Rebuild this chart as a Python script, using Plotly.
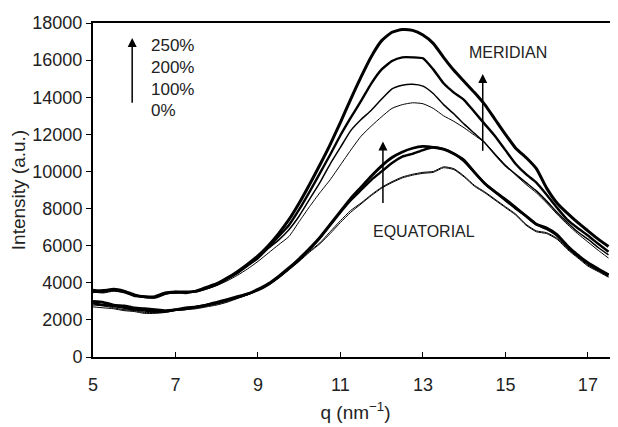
import plotly.graph_objects as go

q = [5.0 + 0.25 * i for i in range(51)]

# Meridian intensities
mer_250 = [3600, 3550, 3650, 3550, 3350, 3250, 3250, 3450, 3500, 3500, 3550, 3750, 3950, 4250, 4600, 5000,
           5450, 6000, 6650, 7400, 8300, 9300, 10350, 11450, 12650, 13900, 15100, 16200, 17050, 17500, 17650,
           17600, 17350, 16900, 16150, 15450, 14850, 14250, 13600, 12800, 12000, 11250, 10750, 10150, 9100,
           8300, 7750, 7250, 6800, 6350, 5950]
mer_200 = [3500, 3600, 3600, 3500, 3300, 3250, 3200, 3400, 3500, 3450, 3550, 3700, 3900, 4200, 4550, 4950,
           5400, 5900, 6500, 7100, 7950, 8900, 9900, 10900, 11950, 12900, 13800, 14750, 15500, 15950, 16150,
           16150, 16100, 15500, 14750, 14250, 13850, 13200, 12550, 11900, 11150, 10400, 9850, 9400, 8750,
           8050, 7400, 6950, 6550, 6100, 5670]
mer_100 = [3550, 3500, 3600, 3550, 3350, 3250, 3250, 3450, 3450, 3500, 3550, 3700, 3900, 4200, 4500, 4900,
           5300, 5850, 6300, 6860, 7600, 8500, 9400, 10400, 11300, 12200, 12800, 13300, 13900, 14450, 14650,
           14700, 14600, 14200, 13600, 13100, 12550, 12050, 11550, 10900, 10300, 9850, 9400, 8950, 8400,
           7800, 7250, 6750, 6350, 5900, 5500]
mer_0 = [3500, 3450, 3550, 3500, 3300, 3200, 3200, 3400, 3450, 3500, 3500, 3650, 3850, 4100, 4400, 4750,
         5150, 5600, 6050, 6490, 7300, 8100, 8850, 9550, 10350, 11150, 11900, 12450, 12950, 13400, 13600,
         13700, 13650, 13400, 13000, 12700, 12350, 11950, 11550, 10950, 10350, 9800, 9300, 8850, 8300,
         7700, 7150, 6650, 6200, 5750, 5330]

# Equatorial intensities
equ_250 = [3000, 2950, 2800, 2750, 2650, 2600, 2550, 2500, 2550, 2650, 2700, 2800, 2950, 3100, 3250, 3400,
           3650, 3950, 4350, 4800, 5300, 5850, 6450, 7150, 7850, 8550, 9150, 9750, 10300, 10750, 11050,
           11250, 11350, 11300, 11200, 10950, 10600, 9950, 9350, 8900, 8500, 8050, 7600, 7150, 6950,
           6600, 6000, 5500, 5080, 4750, 4430]
equ_200 = [2900, 2800, 2750, 2650, 2550, 2500, 2450, 2450, 2550, 2600, 2700, 2800, 2900, 3050, 3200, 3400,
           3600, 3900, 4300, 4750, 5250, 5800, 6400, 7100, 7800, 8450, 9000, 9550, 10000, 10450, 10800,
           10950, 11150, 11300, 11200, 10950, 10550, 9950, 9350, 8900, 8450, 8000, 7600, 7150, 6900,
           6550, 5950, 5450, 5050, 4700, 4400]
equ_100 = [2800, 2750, 2650, 2550, 2500, 2400, 2400, 2450, 2500, 2550, 2650, 2750, 2850, 3000, 3200, 3350,
           3600, 3900, 4300, 4750, 5200, 5700, 6150, 6750, 7350, 7900, 8300, 8750, 9150, 9450, 9700,
           9850, 9950, 10000, 10250, 10150, 9750, 9250, 8900, 8500, 8100, 7700, 7150, 6800, 6700,
           6400, 5850, 5400, 4950, 4650, 4330]
equ_0 = [2700, 2650, 2600, 2500, 2450, 2350, 2350, 2400, 2500, 2550, 2600, 2700, 2800, 2950, 3150, 3350,
         3600, 3900, 4250, 4700, 5150, 5650, 6100, 6650, 7250, 7800, 8250, 8700, 9100, 9400, 9650,
         9800, 9900, 9950, 10200, 10100, 9700, 9200, 8850, 8450, 8050, 7650, 7100, 6750, 6650,
         6350, 5800, 5350, 4900, 4600, 4300]

strain_labels = ["250%", "200%", "100%", "0%"]
x_ticks = [5, 7, 9, 11, 13, 15, 17]
y_ticks = list(range(0, 18001, 2000))
y_ticktext = [str(v) for v in y_ticks]

FONT = "Arial, Liberation Sans, sans-serif"

fig = go.Figure()
series = [
    (mer_0, 1.0), (mer_100, 1.5), (mer_200, 2.4), (mer_250, 3.0),
    (equ_0, 1.0), (equ_100, 1.0), (equ_200, 2.4), (equ_250, 2.8),
]
for ys, w in series:
    fig.add_trace(go.Scatter(x=q, y=ys, mode="lines",
                             line=dict(color="black", width=w, shape="spline", smoothing=0.5),
                             showlegend=False, hoverinfo="skip"))

ann = []
# meridian arrow
ann.append(dict(x=14.45, y=15250, ax=14.45, ay=10500, xref="x", yref="y", axref="x", ayref="y",
                showarrow=True, arrowhead=2, arrowsize=1.2, arrowwidth=1.5, arrowcolor="black", text=" "))
ann.append(dict(x=15.06, y=16430, text="MERIDIAN", showarrow=False, font=dict(size=16, family=FONT, color="#222")))
# equatorial arrow
ann.append(dict(x=12.03, y=11620, ax=12.03, ay=7680, xref="x", yref="y", axref="x", ayref="y",
                showarrow=True, arrowhead=2, arrowsize=1.2, arrowwidth=1.5, arrowcolor="black", text=" "))
ann.append(dict(x=13.02, y=6760, text="EQUATORIAL", showarrow=False, font=dict(size=16, family=FONT, color="#222")))
# strain arrow
ann.append(dict(x=5.95, y=17190, ax=5.95, ay=13080, xref="x", yref="y", axref="x", ayref="y",
                showarrow=True, arrowhead=2, arrowsize=1.2, arrowwidth=1.5, arrowcolor="black", text=" "))
for lbl, yv in zip(strain_labels, [16810, 15620, 14430, 13300]):
    ann.append(dict(x=6.36, y=yv, text=lbl, showarrow=False, xanchor="left",
                    font=dict(size=17, family=FONT, color="#222")))

fig.update_layout(
    width=610, height=419,
    margin=dict(l=85, r=0, t=15, b=70),
    plot_bgcolor="white", paper_bgcolor="white",
    font=dict(family=FONT, size=18, color="#222"),
    annotations=ann,
    xaxis=dict(range=[5, 17.73], tickvals=x_ticks, ticks="inside", ticklen=5, tickwidth=1.2, tickcolor="black",
               showline=True, linecolor="black", linewidth=2, mirror=True, showgrid=False, zeroline=False,
               ticklabelstandoff=10, automargin=False,
               title=dict(text="q (nm<sup>\u22121</sup>)", font=dict(size=19, family=FONT), standoff=12)),
    yaxis=dict(range=[0, 18000], tickvals=y_ticks, ticktext=y_ticktext, ticks="outside", ticklen=5,
               tickwidth=1.2, tickcolor="black", automargin=False,
               showline=True, linecolor="black", linewidth=2, showgrid=False, zeroline=False,
               title=dict(text="Intensity (a.u.)", font=dict(size=19, family=FONT), standoff=8)),
)

fig.write_html("out.html")
